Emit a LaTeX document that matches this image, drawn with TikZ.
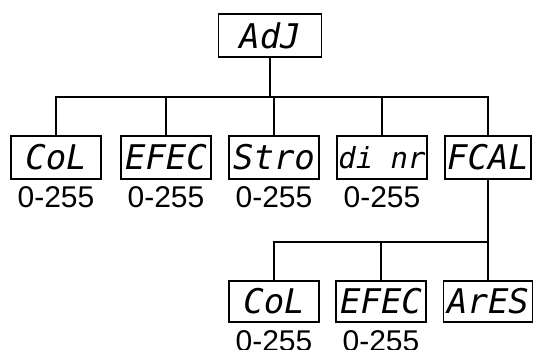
\documentclass[tikz,border=0pt]{standalone}
\usepackage{fontspec}
\setmainfont{Liberation Sans}
\newfontfamily\segfont{DejaVu Sans Mono}
\usetikzlibrary{positioning}

\begin{document}
\begin{tikzpicture}[
    x=1pt, y=-1pt,
    displaynode/.style={rectangle, draw=black, line width=1.6pt, minimum height=43pt, minimum width=90pt, inner sep=0pt, font=\segfont\itshape\fontsize{34}{34}\selectfont},
    rangenode/.style={inner sep=0pt, font=\fontsize{30}{30}\selectfont},
    line width=1.6pt
]
\useasboundingbox (0,0) rectangle (534,349);

% Nodes
\node[displaynode, minimum width=103pt]  (adj)   at (270,35.5)  {AdJ};
\node[displaynode]                       (col)   at (56,157.5)  {CoL};
\node[displaynode]                       (efec)  at (166,157.5) {EFEC};
\node[displaynode]                       (stro)  at (274,157.5) {Stro};
\node[displaynode, font=\segfont\itshape\fontsize{29}{29}\selectfont] (dinr) at (382,157.5) {di nr};
\node[displaynode, minimum width=86pt]   (fcal)  at (488,157.5) {FCAL};
\node[displaynode, minimum height=41pt]  (fcol)  at (274,301.5) {CoL};
\node[displaynode, minimum height=41pt]  (fefec) at (381,301.5) {EFEC};
\node[displaynode, minimum height=41pt, minimum width=89pt] (fares) at (488,301.5) {ArES};

\node[rangenode]  (colRange)   [below=6pt of col]   {0-255};
\node[rangenode]  (efecRange)  [below=6pt of efec]  {0-255};
\node[rangenode]  (stroRange)  [below=6pt of stro]  {0-255};
\node[rangenode]  (dinrRange)  [below=6pt of dinr]  {0-255};
\node[rangenode]  (fcolRange)  [below=7pt of fcol]  {0-255};
\node[rangenode]  (fefecRange) [below=7pt of fefec] {0-255};

\coordinate (bus)  at (0,97);
\coordinate (fbus) at (0,242);

% Lines
\draw (adj) -- (adj |- bus);
\draw (col) -- (col |- bus) -- (fcal |- bus) -- (fcal);
\draw (efec |- bus) -- (efec);
\draw (stro |- bus) -- (stro);
\draw (dinr |- bus) -- (dinr);
\draw (fcal) -- (fcal |- fbus);
\draw (fcol) -- (fcol |- fbus) -- (fares |- fbus) -- (fares);
\draw (fefec |- fbus) -- (fefec);

\end{tikzpicture}
\end{document}
